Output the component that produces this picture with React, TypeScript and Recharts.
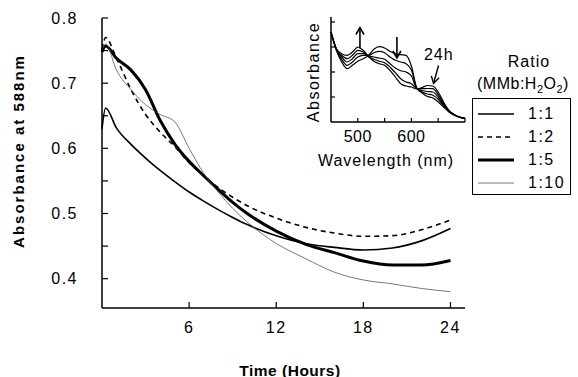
import { Legend, Line, LineChart, ReferenceDot, XAxis, YAxis } from "recharts";

const FONT = '"Liberation Sans", Arial, Helvetica, sans-serif';

// main plot: absorbance at 588 nm vs time
const hours = [0, 0.25, 1, 2, 3, 4, 5, 6, 7, 8, 9, 10, 12, 14, 16, 18, 20, 22, 24];
const ratio1to1 = [0.63, 0.662, 0.631, 0.606, 0.585, 0.566, 0.549, 0.533, 0.519, 0.506, 0.494, 0.483, 0.466, 0.454, 0.448, 0.444, 0.447, 0.458, 0.477];
const ratio1to2 = [0.752, 0.77, 0.738, 0.69, 0.652, 0.625, 0.603, 0.578, 0.558, 0.54, 0.525, 0.512, 0.493, 0.479, 0.47, 0.465, 0.466, 0.475, 0.49];
const ratio1to5 = [0.748, 0.757, 0.738, 0.72, 0.69, 0.643, 0.607, 0.58, 0.558, 0.537, 0.517, 0.5, 0.473, 0.453, 0.44, 0.427, 0.421, 0.421, 0.428];
const ratio1to10 = [0.75, 0.76, 0.72, 0.69, 0.667, 0.652, 0.641, 0.6, 0.562, 0.533, 0.508, 0.487, 0.454, 0.431, 0.41, 0.398, 0.392, 0.385, 0.38];

const hourTicks = [6, 12, 18, 24];
const absTicks = [0.4, 0.45, 0.5, 0.55, 0.6, 0.65, 0.7, 0.75, 0.8];

// inset: spectra over 24 h
const wavelengths = [450, 460, 470, 480, 490, 500, 510, 520, 530, 540, 550, 560, 570, 580, 590, 600, 610, 620, 630, 640, 650, 660, 670, 680, 690, 700];
const spectrum1 = [0.9, 0.717, 0.6, 0.533, 0.567, 0.607, 0.633, 0.665, 0.727, 0.753, 0.74, 0.707, 0.683, 0.673, 0.667, 0.56, 0.34, 0.29, 0.255, 0.24, 0.2, 0.15, 0.107, 0.073, 0.05, 0.033];
const spectrum2 = [0.9, 0.723, 0.627, 0.567, 0.6, 0.65, 0.667, 0.667, 0.693, 0.707, 0.693, 0.65, 0.617, 0.6, 0.583, 0.52, 0.34, 0.3, 0.28, 0.267, 0.227, 0.16, 0.1, 0.067, 0.047, 0.033];
const spectrum3 = [0.9, 0.727, 0.65, 0.6, 0.633, 0.683, 0.683, 0.66, 0.65, 0.64, 0.627, 0.583, 0.54, 0.513, 0.5, 0.46, 0.335, 0.315, 0.305, 0.3, 0.25, 0.173, 0.107, 0.073, 0.047, 0.033];
const spectrum4 = [0.9, 0.73, 0.667, 0.633, 0.667, 0.717, 0.7, 0.653, 0.627, 0.607, 0.593, 0.55, 0.493, 0.433, 0.4, 0.383, 0.335, 0.333, 0.335, 0.333, 0.273, 0.187, 0.113, 0.073, 0.047, 0.037];
const spectrum24h = [0.9, 0.733, 0.683, 0.667, 0.7, 0.75, 0.717, 0.655, 0.607, 0.583, 0.567, 0.517, 0.45, 0.383, 0.36, 0.35, 0.33, 0.345, 0.365, 0.36, 0.3, 0.2, 0.117, 0.073, 0.05, 0.04];
const nmTicks = [500, 550, 600, 650, 700];
const nmLabels = [500, 600];

const mainRows = hours.map((t, i) => ({
  t,
  r1: ratio1to1[i],
  r2: ratio1to2[i],
  r5: ratio1to5[i],
  r10: ratio1to10[i],
}));

const insetRows = wavelengths.map((nm, i) => ({
  nm,
  s1: spectrum1[i],
  s2: spectrum2[i],
  s3: spectrum3[i],
  s4: spectrum4[i],
  s24: spectrum24h[i],
}));

type Series = { key: string; name: string; width: number; dash?: string; color: string };

const series: Series[] = [
  { key: "r1", name: "1:1", width: 1.6, color: "#000" },
  { key: "r2", name: "1:2", width: 1.6, dash: "5 4", color: "#000" },
  { key: "r5", name: "1:5", width: 3, color: "#000" },
  { key: "r10", name: "1:10", width: 0.8, color: "#555" },
];

const spectra = ["s1", "s2", "s3", "s4", "s24"];

const title = (
  text: string,
  x: number,
  y: number,
  opts: { angle?: number; size?: number; bold?: boolean; spacing?: number } = {},
) => ({
  value: text,
  content: () => (
    <text
      x={x}
      y={y}
      textAnchor="middle"
      dominantBaseline="central"
      transform={opts.angle ? `rotate(${opts.angle} ${x} ${y})` : undefined}
      fontFamily={FONT}
      fontSize={opts.size ?? 16}
      fontWeight={opts.bold ? 700 : 400}
      letterSpacing={opts.spacing ?? 0}
      fill="#000"
    >
      {text}
    </text>
  ),
});

function RatioLegend({ payload }: any) {
  const items = ((payload ?? []) as any[])
    .slice()
    .sort(
      (a, b) =>
        series.findIndex((s) => s.key === a.dataKey) - series.findIndex((s) => s.key === b.dataKey),
    );
  return (
    <div style={{ position: "relative", width: 110, height: 150, fontFamily: FONT, color: "#000" }}>
      <div style={{ position: "absolute", left: 0, width: 122, top: 3, textAlign: "center", fontSize: 16, lineHeight: "18px", letterSpacing: 1 }}>
        Ratio
      </div>
      <div style={{ position: "absolute", left: 9, top: 25, fontSize: 16, lineHeight: "18px", whiteSpace: "nowrap", letterSpacing: 0.5 }}>
        (MMb:H<span style={{ fontSize: 11, position: "relative", top: 4 }}>2</span>O
        <span style={{ fontSize: 11, position: "relative", top: 4 }}>2</span>)
      </div>
      <div
        style={{
          position: "absolute",
          left: 4,
          top: 48,
          width: 97,
          height: 95,
          border: "1.5px solid #000",
        }}
      >
        {items.map((entry, i) => {
          const s = series.find((x) => x.key === entry.dataKey) ?? series[i];
          return (
            <div key={s.key} style={{ position: "absolute", left: 0, top: 6 + i * 23, width: 97, height: 18 }}>
              <svg width={40} height={18} style={{ position: "absolute", left: 4, top: 0 }}>
                <line x1={1} y1={9} x2={37} y2={9} stroke={s.color} strokeWidth={s.width} strokeDasharray={s.dash} />
              </svg>
              <span style={{ position: "absolute", left: 55, top: 0, fontSize: 16, lineHeight: "18px", letterSpacing: 1.5 }}>
                {entry.value}
              </span>
            </div>
          );
        })}
      </div>
    </div>
  );
}

const VArrow = ({ cx, cy, up }: { cx: number; cy: number; up: boolean }) => {
  const s = up ? -1 : 1;
  return (
    <g stroke="#000" strokeWidth={1.6} fill="none">
      <line x1={cx} y1={cy - s * 10} x2={cx} y2={cy + s * 10} />
      <polyline points={`${cx - 4},${cy + s * 4} ${cx},${cy + s * 11} ${cx + 4},${cy + s * 4}`} />
    </g>
  );
};

const DiagArrow = ({ cx, cy }: { cx: number; cy: number }) => (
  <g stroke="#000" strokeWidth={1.4} fill="none">
    <line x1={cx + 3} y1={cy - 10} x2={cx - 2} y2={cy + 8} />
    <polyline points={`${cx + 3.6},${cy + 2.2} ${cx - 2},${cy + 8} ${cx - 4.2},${cy + 0.4}`} />
  </g>
);

const axisStroke = { stroke: "#000", strokeWidth: 1.5 };
const tickStroke = { stroke: "#000", strokeWidth: 1.2 };

export default function App() {
  return (
    <div style={{ position: "absolute", left: 0, top: 0, width: 578, height: 377, background: "#fff", overflow: "hidden" }}>
      <div style={{ position: "absolute", left: 0, top: 0 }}>
        <LineChart width={578} height={377} data={mainRows} margin={{ top: 18, right: 113, bottom: 0, left: 0 }}>
          <XAxis
            dataKey="t"
            type="number"
            domain={[0, 25]}
            ticks={hourTicks}
            height={69}
            tickSize={-6}
            tickMargin={20}
            tick={{ fill: "#000", fontSize: 16, fontFamily: FONT, letterSpacing: 1.5 }}
            axisLine={axisStroke}
            tickLine={tickStroke}
            label={title("Time (Hours)", 290, 370, { bold: true, size: 15.5, spacing: 0.5 })}
          />
          <XAxis xAxisId="top" orientation="top" height={0} tick={false} tickLine={false} axisLine={axisStroke} />
          <YAxis
            type="number"
            domain={[0.355, 0.8]}
            allowDataOverflow
            ticks={absTicks}
            width={102}
            tickSize={-6}
            tickMargin={30}
            tickFormatter={(v: number) => (Math.round(v * 100) % 10 === 0 ? v.toFixed(1) : "")}
            tick={{ fill: "#000", fontSize: 16, fontFamily: FONT, letterSpacing: 1.5 }}
            axisLine={axisStroke}
            tickLine={tickStroke}
            label={title("Absorbance at 588nm", 18, 151, { angle: -90, bold: true, size: 15, spacing: 2 })}
          />
          <YAxis yAxisId="right" orientation="right" width={0} tick={false} tickLine={false} axisLine={axisStroke} />
          {series.map((s) => (
            <Line
              key={s.key}
              type="monotone"
              dataKey={s.key}
              name={s.name}
              stroke={s.color}
              strokeWidth={s.width}
              strokeDasharray={s.dash}
              dot={false}
              activeDot={false}
              isAnimationActive={false}
            />
          ))}
          <Legend
            layout="horizontal"
            verticalAlign="middle"
            align="center"
            content={RatioLegend}
            wrapperStyle={{ left: 468, top: 50, width: 110, height: 150 }}
          />
        </LineChart>
      </div>

      <div style={{ position: "absolute", left: 290, top: 0 }}>
        <LineChart width={180} height={175} data={insetRows} margin={{ top: 17, right: 5, bottom: 0, left: 0 }}>
          <XAxis
            dataKey="nm"
            type="number"
            domain={[450, 700]}
            ticks={nmTicks}
            height={53}
            tickSize={-4}
            tickMargin={13}
            tickFormatter={(v: number) => (nmLabels.includes(v) ? String(v) : "")}
            tick={{ fill: "#000", fontSize: 16, fontFamily: FONT, letterSpacing: 0.5 }}
            axisLine={axisStroke}
            tickLine={tickStroke}
            label={title("Wavelength (nm)", 96, 160, { spacing: 1 })}
          />
          <XAxis xAxisId="top" orientation="top" height={0} tick={false} tickLine={false} axisLine={axisStroke} />
          <YAxis
            type="number"
            domain={[0, 1.05]}
            ticks={[0.25, 0.5, 0.75, 1]}
            width={41}
            tickSize={-4}
            tickFormatter={() => ""}
            axisLine={axisStroke}
            tickLine={tickStroke}
            label={title("Absorbance", 23, 72, { angle: -90, spacing: 1.5 })}
          />
          <YAxis yAxisId="right" orientation="right" width={0} tick={false} tickLine={false} axisLine={axisStroke} />
          {spectra.map((k) => (
            <Line
              key={k}
              type="monotone"
              dataKey={k}
              stroke="#000"
              strokeWidth={1.2}
              dot={false}
              activeDot={false}
              isAnimationActive={false}
            />
          ))}
          <ReferenceDot x={504} y={0.835} r={0} shape={(p: any) => <VArrow cx={p.cx} cy={p.cy} up />} />
          <ReferenceDot x={573} y={0.75} r={0} shape={(p: any) => <VArrow cx={p.cx} cy={p.cy} up={false} />} />
          <ReferenceDot x={645} y={0.465} r={0} shape={(p: any) => <DiagArrow cx={p.cx} cy={p.cy} />} />
          <ReferenceDot
            x={651}
            y={0.68}
            r={0}
            shape={(p: any) => (
              <text
                x={p.cx}
                y={p.cy}
                textAnchor="middle"
                dominantBaseline="central"
                fontFamily={FONT}
                fontSize={16}
                letterSpacing={1}
                fill="#000"
              >
                24h
              </text>
            )}
          />
        </LineChart>
      </div>
    </div>
  );
}
